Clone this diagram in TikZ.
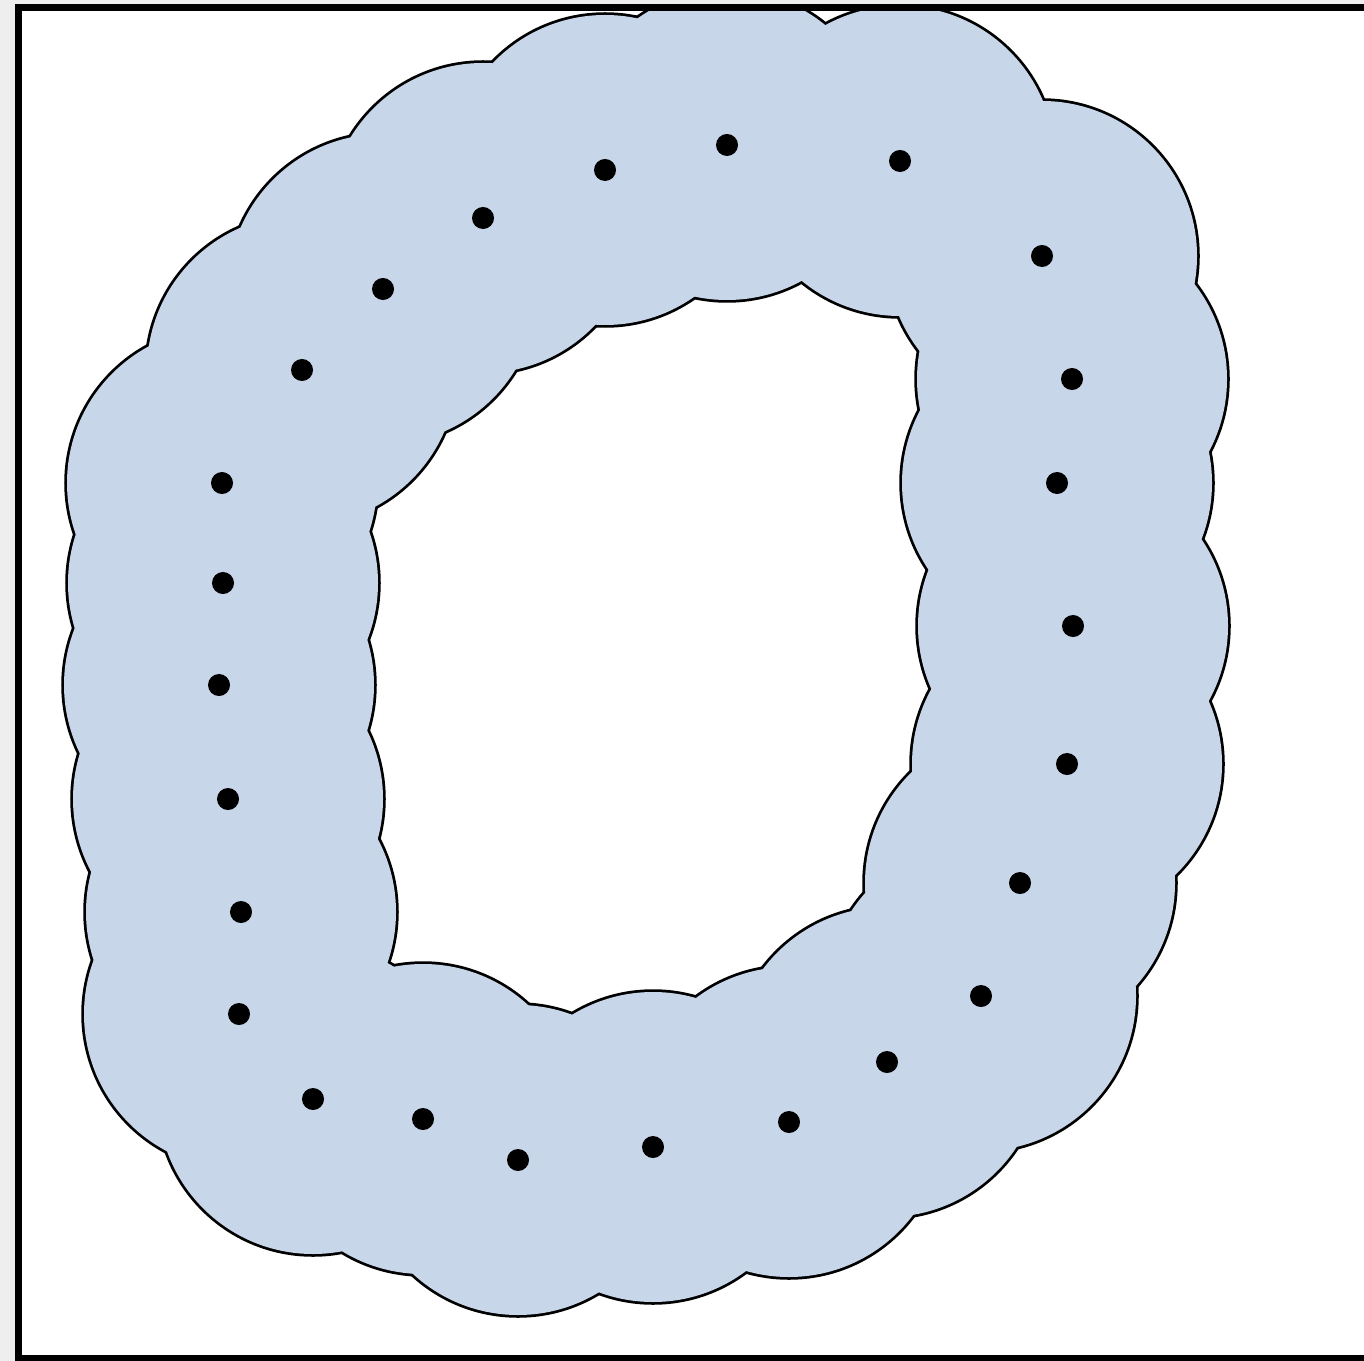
\documentclass[tikz,border=0pt]{standalone}
\usepackage{tikz}
\usetikzlibrary{calc,positioning}
\definecolor{ballblue}{HTML}{C8D6E9}
\definecolor{margingray}{HTML}{EEEEEE}
\tikzset{
    site/.style={circle, fill=black, inner sep=0pt, minimum size=0.22cm},
}
\newcommand{\ballrad}{155}
\begin{document}
\begin{tikzpicture}[x=0.01cm, y=-0.01cm]
    % Page and frame
    \useasboundingbox (0,0) rectangle (1364,1361);
    \fill[margingray] (0,0) rectangle (1364,1361);
    \fill[white] (18.5,7.5) rectangle (1370,1358);

    % Sample points along the loop
    \foreach \n/\px/\py in {1/727/145, 2/900/161, 3/1042/256, 4/1072/379, 5/1057/483,
        6/1073/626, 7/1067/764, 8/1020/883, 9/981/996, 10/887/1062,
        11/789/1122, 12/653/1147, 13/518/1160, 14/423/1119, 15/313/1099,
        16/239/1014, 17/241/912, 18/228/799, 19/219/685, 20/223/583,
        21/222/483, 22/302/370, 23/383/289, 24/483/218, 25/605/170}
        \coordinate (p\n) at (\px,\py);

    % Union of balls: outline first, then fill over it
    \begin{scope}
        \clip (18.5,7.5) rectangle (1370,1358);
        \foreach \n in {1,...,25}
            \draw[line width=0.055cm, black] (p\n) circle (\ballrad);
        \foreach \n in {1,...,25}
            \fill[ballblue] (p\n) circle (\ballrad);
    \end{scope}

    % Centres
    \foreach \n in {1,...,25}
        \node[site] (s\n) at (p\n) {};

    % Frame
    \draw[line width=0.07cm] (18.5,7.5) rectangle (1370,1358);
\end{tikzpicture}
\end{document}
